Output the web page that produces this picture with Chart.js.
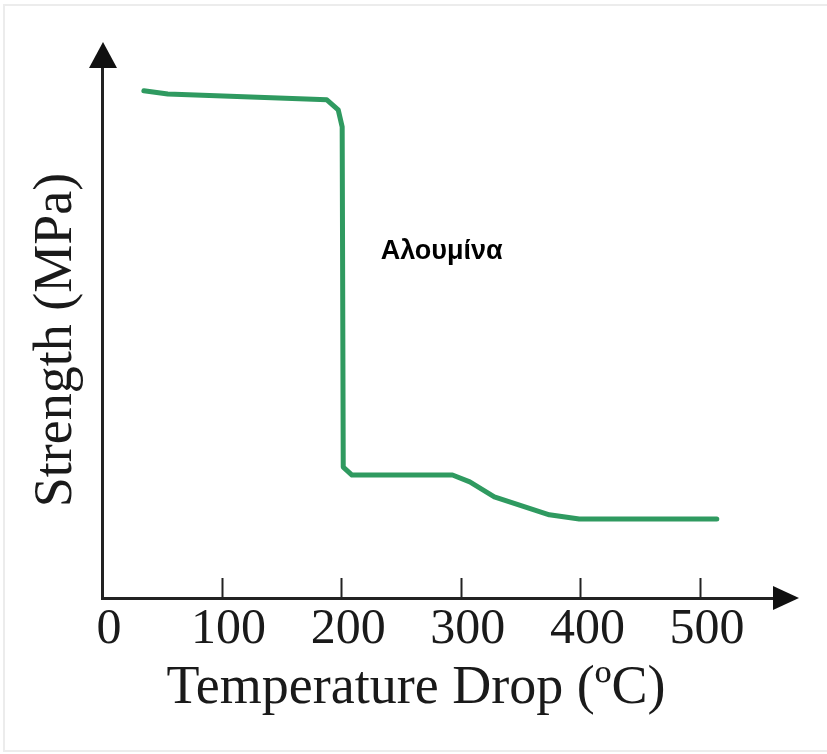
<!DOCTYPE html>
<html>
<head>
<meta charset="utf-8">
<script src="https://cdn.jsdelivr.net/npm/chart.js@4.4.1/dist/chart.umd.min.js"></script>
<style>
  body { margin: 0; background: #fff; }
  canvas { display: block; }
</style>
</head>
<body>
<canvas id="chart" width="827" height="754"></canvas>
<script>
// curve (strength in arbitrary units, 0-100)
const tempDrop = [35, 55, 188, 197.5, 200.8, 201.7, 209, 293, 307.5, 328, 374, 399, 514];
const strength = [95.7, 95.1, 94.0, 92.1, 88.9, 24.7, 23.2, 23.2, 21.9, 19.1, 15.7, 14.9, 14.9];
const xTicks = [0, 100, 200, 300, 400, 500];

const curveLabel = "Αλουμίνα";
const labelAt = { x: 233, y: 65.3 };

const serif = "'Liberation Serif', 'Times New Roman', serif";

// axes arrows, inward ticks, titles and the label
const decor = {
    id: "decor",
    beforeDraw(chart) {
        const ctx = chart.ctx;
        ctx.save();
        ctx.fillStyle = "#fff";
        ctx.fillRect(0, 0, chart.width, chart.height);
        ctx.strokeStyle = "#ececec";
        ctx.lineWidth = 2;
        ctx.strokeRect(4, 5, chart.width + 4, chart.height - 8);
        ctx.restore();
    },
    afterDraw(chart) {
        const ctx = chart.ctx;
        const area = chart.chartArea;
        const xs = chart.scales.x;
        const ys = chart.scales.y;
        ctx.save();
        ctx.fillStyle = "#111";
        ctx.strokeStyle = "#222";

        // y arrow
        ctx.beginPath();
        ctx.moveTo(area.left - 13, area.top);
        ctx.lineTo(area.left + 1, area.top - 26);
        ctx.lineTo(area.left + 15, area.top);
        ctx.closePath();
        ctx.fill();

        // x arrow
        ctx.beginPath();
        ctx.moveTo(area.right, area.bottom - 12);
        ctx.lineTo(area.right + 26, area.bottom);
        ctx.lineTo(area.right, area.bottom + 12);
        ctx.closePath();
        ctx.fill();

        // inward tick marks
        ctx.lineWidth = 2;
        xTicks.forEach(v => {
            if (v === 0) return;
            const px = Math.round(xs.getPixelForValue(v)) + 0.5;
            ctx.beginPath();
            ctx.moveTo(px, area.bottom);
            ctx.lineTo(px, area.bottom - 20);
            ctx.stroke();
        });

        // axis titles
        ctx.fillStyle = "#1a1a1a";
        ctx.font = "54px " + serif;
        ctx.textAlign = "center";
        ctx.textBaseline = "alphabetic";
        ctx.fillText("Temperature Drop (ºC)", 416, 703);

        ctx.save();
        ctx.translate(71, 340);
        ctx.rotate(-Math.PI / 2);
        ctx.fillText("Strength (MPa)", 0, 0);
        ctx.restore();

        // curve label
        ctx.fillStyle = "#000";
        ctx.font = "bold 27px 'Liberation Sans', Arial, sans-serif";
        ctx.textAlign = "left";
        ctx.textBaseline = "middle";
        ctx.fillText(curveLabel, xs.getPixelForValue(labelAt.x), ys.getPixelForValue(labelAt.y));
        ctx.restore();
    }
};

const points = tempDrop.map((t, i) => ({ x: t, y: strength[i] }));

new Chart(document.getElementById("chart"), {
    type: "scatter",
    data: {
        datasets: [{
            data: points,
            showLine: true,
            borderColor: "#2f9a60",
            borderWidth: 5,
            borderJoinStyle: "round",
            borderCapStyle: "round",
            pointRadius: 0,
            tension: 0
        }]
    },
    options: {
        responsive: false,
        animation: false,
        events: [],
        layout: { padding: { left: 0, top: 68, right: 54, bottom: 0 } },
        plugins: { legend: { display: false }, tooltip: { enabled: false } },
        scales: {
            x: {
                type: "linear",
                min: 0,
                max: 561,
                grid: { display: false },
                border: { display: true, color: "#222", width: 3 },
                afterFit: s => { s.height = 156; },
                afterBuildTicks: s => { s.ticks = xTicks.map(v => ({ value: v })); },
                ticks: {
                    color: "#1a1a1a",
                    font: { family: serif, size: 50 },
                    padding: -6,
                    labelOffset: 7,
                    maxRotation: 0
                }
            },
            y: {
                type: "linear",
                min: 0,
                max: 100,
                grid: { display: false },
                border: { display: true, color: "#222", width: 3 },
                afterFit: s => { s.width = 102; },
                ticks: { display: false }
            }
        }
    },
    plugins: [decor]
});
</script>
</body>
</html>
